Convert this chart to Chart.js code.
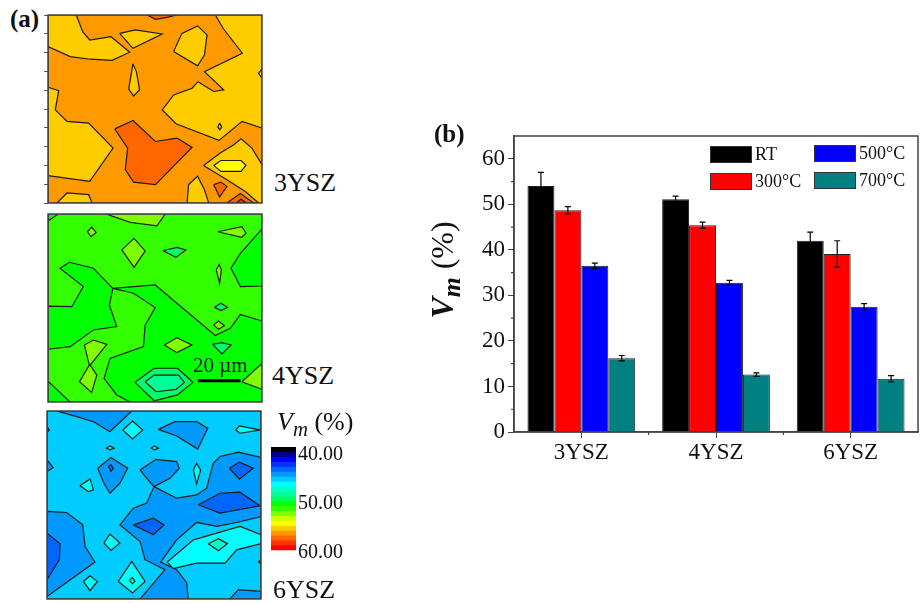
<!DOCTYPE html>
<html>
<head>
<meta charset="utf-8">
<title>Vm maps and bars</title>
<script src="https://cdn.jsdelivr.net/npm/chart.js@4/dist/chart.umd.min.js"></script>
<style>
  body { margin: 0; background: #fff; width: 921px; height: 603px; position: relative; overflow: hidden; font-family: "Liberation Serif", serif; color: #111; }
  canvas { position: absolute; }
  .t { position: absolute; white-space: nowrap; line-height: 1; }
  .swatch { position: absolute; width: 40px; height: 15px; border: 1px solid #333; box-sizing: content-box; }
  sub { font-size: 0.8em; line-height: 0; }
</style>
</head>
<body>
<canvas id="map3"></canvas>
<canvas id="map4"></canvas>
<canvas id="map6"></canvas>
<canvas id="colorbar"></canvas>
<canvas id="bars"></canvas>

<div class="t" style="left:10px;top:6px;font-size:25px;font-weight:bold">(a)</div>
<div class="t" style="left:434px;top:121px;font-size:25px;font-weight:bold">(b)</div>
<div class="t" style="left:274px;top:170px;font-size:26px">3YSZ</div>
<div class="t" style="left:272px;top:363px;font-size:26px">4YSZ</div>
<div class="t" style="left:273px;top:577px;font-size:26px">6YSZ</div>
<div class="t" style="left:193px;top:355px;font-size:21px">20 µm</div>
<div class="t" style="left:277px;top:409px;font-size:26px"><i>V<sub>m</sub></i> (%)</div>
<div class="t" id="yTitle" style="left:442px;top:270px;font-size:32px;transform:translate(-50%,-50%) rotate(-90deg)"><i><b>V<sub>m</sub></b></i> (%)</div>
<div id="legend"></div>

<script>
// panel (b)
const groups = ['3YSZ', '4YSZ', '6YSZ'];
const seriesNames = ['RT', '300°C', '500°C', '700°C'];
const seriesColors = ['#000000', '#ff0000', '#0000ff', '#008080'];
const rtValues = [54, 51.1, 42];
const t300Values = [48.7, 45.4, 39.1];
const t500Values = [36.5, 32.8, 27.5];
const t700Values = [16.2, 12.6, 11.7];
const rtErrors = [3, 0.7, 1.9];
const t300Errors = [0.8, 0.7, 2.9];
const t500Errors = [0.6, 0.5, 0.7];
const t700Errors = [0.6, 0.4, 0.7];
const yTickValues = [0, 10, 20, 30, 40, 50, 60];
const yMinorTicks = [5, 15, 25, 35, 45, 55];

// colour scale, Vm (%)
const bandLevels = [39, 40, 41, 42, 43, 44, 45, 46, 47, 48, 49, 50, 51, 52, 53, 54, 55, 56, 57, 58, 59];
const bandColors = ['#000000', '#000099', '#0000ff', '#0033ff', '#0066ff', '#0099ff', '#00ccff', '#00ffff', '#00ffcc', '#00ff99',
  '#00ff66', '#00ff00', '#33ff00', '#80ff00', '#ccff00', '#ffff00', '#ffcc00', '#ff9900', '#ff6600', '#ff3300', '#ff0000'];
const barLabels = [40, 50, 60];

// contour maps: position in um, y measured from the top of the map, 100 x 88 um field
const levels3YSZ = [56, 55, 55, 55, 55, 55, 55, 55, 55, 55, 55, 55, 57, 57, 57, 57, 58, 54];
const contours3YSZ = [
  [[0,0],[100,0],[100,88],[0,88]],
  [[0,0],[13.2,0],[16.2,7.8],[19.5,11.7],[29.4,10.1],[38.2,17.4],[29.9,21.2],[19.8,20.7],[10.4,19.5],[0,14.8]],
  [[33.5,8.6],[40.8,7],[53.3,8.9],[39.7,15.6]],
  [[58.7,17.1],[62.6,8.6],[69.9,5.1],[74.3,9.3],[73.1,18.7],[69.9,23.8]],
  [[78.2,0],[81.8,6.2],[90.8,17.9],[73.1,26.5],[82.1,35],[77.4,35.8],[70.1,31.2],[67.3,34.3],[58.7,37.4],[53.4,44.4],[59.8,50.9],[79.9,58.7],[90.7,49.8],[100,53],[100,0]],
  [[39.7,22.9],[41.3,26.5],[42.8,35],[40,37.9],[37.7,34.7]],
  [[100,25.2],[98.4,27.3],[100,29.6]],
  [[0,33.8],[5,35.4],[3.4,44.4],[8.9,49.8],[19,50.6],[30.4,62.3],[19.5,77.9],[0,75.2]],
  [[72.7,70.4],[80.5,64.6],[86.8,60.7],[90.2,57.9],[95.3,62.3],[100,70.1],[100,88],[98.4,88],[92.2,82.6],[83.6,77.1]],
  [[65,88],[65.7,79.4],[69.9,75.5],[73.1,81.8],[75.1,88]],
  [[4.2,88],[8.9,83.3],[19,84.1],[20.6,88]],
  [[80.2,50.6],[81.2,52.5],[80.2,53.7],[79.4,52.5]],
  [[31.2,53.3],[39.7,49.4],[50.2,59.2],[60.3,57.6],[67.3,62],[50.2,79.4],[40,78.2],[36.1,72.4],[37.2,62.3]],
  [[77.4,79.4],[80.8,78.2],[83.6,80.2],[80.2,85.2]],
  [[46.3,0],[60,0],[55.6,1.1],[50.2,2]],
  [[83.6,88],[89.9,83.6],[96.1,88]],
  [[88,88],[90.2,86.1],[92.7,88]],
  [[77.4,70.4],[80.8,68.1],[90.2,68.1],[92.5,70.4],[90.2,73.2],[80.8,73.2]]
];

const levels4YSZ = [51, 50, 50, 50, 50, 50, 52, 52, 52, 52, 52, 52, 52, 52, 52, 49, 49, 49, 49, 48];
const contours4YSZ = [
  [[0,0],[100,0],[100,88],[0,88]],
  [[0,0],[4.8,0],[0,3.3]],
  [[0,43.1],[11.1,43.4],[16.5,34],[5.6,25.4],[10,22.6],[21.2,25.4],[30.3,34.8],[28.7,42.6],[32.1,52.7],[21.2,54.3],[10.3,62.1],[0,63.3]],
  [[30.3,34.8],[50.1,33.2],[60.2,41.8],[78.2,56.9],[85.2,53.5],[89.9,47],[100,50.1],[100,88],[38.4,88],[32.1,84.7],[26.2,76.9],[29,67.6],[44.6,62.1],[45.4,52],[50.1,43.8],[39.9,37.1]],
  [[0,78.2],[10.3,88],[0,88]],
  [[100,7],[89.9,18.4],[85.5,25.4],[89.9,34],[100,33.7]],
  [[27.1,0],[54.8,0],[50.9,5.6],[38.4,3.9]],
  [[18.4,8.3],[20.4,6.2],[22.5,8.6],[20.1,10.6]],
  [[34.5,16.8],[40.2,11.4],[45.4,17.3],[40.2,25]],
  [[79.3,8.3],[90.6,5.9],[92.5,9],[90.6,10.9]],
  [[78.6,26.2],[80,23.6],[81,26.2],[80.2,32.4]],
  [[77.4,51.9],[79.7,50.1],[82.4,52.3],[79.7,54]],
  [[54.4,61.3],[60.2,57.9],[67.2,61.3],[60.2,64.9]],
  [[17,61.3],[21.2,59],[27.5,61],[19.7,70.7],[22.8,75.4],[20.4,83.5],[14.7,78.5],[19.3,70.7]],
  [[90.6,78.5],[100,69.9],[100,82.1]],
  [[53.7,17.2],[60.2,15.6],[64.4,16.8],[59.8,20.3]],
  [[77.8,43.7],[80.8,41.8],[83.9,43.7],[80.8,45.2]],
  [[76.9,61],[81.3,60.2],[85.5,61.3],[81.3,65.5]],
  [[40.7,78.8],[49.6,72.2],[60.5,72.2],[67.7,78.8],[60.5,84.7],[49.6,87.4]],
  [[45.4,78.5],[49.6,75.4],[61,75.4],[63.7,78.8],[59.8,82.1],[50.5,83.2]]
];
const scaleBarX = [70, 90];
const scaleBarY = [78, 78];

const levels6YSZ = [45, 44, 44, 44, 44, 44, 44, 44, 44, 44, 44, 43, 43, 43, 43, 43, 46, 46, 46, 46, 46, 46, 46, 46, 46, 46, 47, 47];
const contours6YSZ = [
  [[0,0],[100,0],[100,88],[0,88]],
  [[4.5,0],[39.6,0],[29.4,9.7],[21.7,5],[13.9,2.6]],
  [[52,8.6],[59.8,5],[69.9,5],[75.1,8.1],[70.4,17.8],[60.6,11.7]],
  [[0,7.3],[1.1,8.9],[0,10]],
  [[0,22.9],[2.9,26.5],[0,28.3]],
  [[23.7,26.8],[29.9,21.8],[37.7,26.8],[34.1,33.8],[29.4,38.5],[26.6,33.8]],
  [[43.5,27.6],[50.9,22.6],[60.6,23.7],[61.8,26.8],[57.5,31.5],[50,35.4],[46.6,31.5]],
  [[50,35.4],[60.6,40.8],[69.9,39.3],[74.6,36.1],[77.7,24.5],[80.8,21.3],[89.4,19.3],[100,21.7],[100,49.4],[88.6,52.2],[79.3,54],[69.9,52.2],[60.6,60.3],[53.1,70.7],[60.6,74.3],[65.3,80.5],[66,88],[43.5,88],[55.1,74.3],[45.8,69.6],[43.5,61.1],[34.1,53.3],[40.3,45.5],[46.6,43.1]],
  [[85.5,88],[89.4,83.6],[100,84.4],[100,88]],
  [[0,47],[9.2,47.5],[16.7,53.3],[17.8,63.4],[22.4,70.7],[0,86.8]],
  [[100,69.6],[98.8,70.7],[100,71.5]],
  [[0,57.2],[6.1,62.1],[5.8,69.6],[0,79]],
  [[85.2,26.8],[89.9,24],[96.4,26.8],[89.9,31.9]],
  [[70.7,43.9],[80.8,38.5],[90.2,38],[99.5,44.4],[80.8,47.8]],
  [[40.3,53.3],[49.7,50.2],[54.7,53.3],[49.7,57.9]],
  [[28.7,26],[29.9,25.2],[31,26.8],[29.9,28.3]],
  [[35.4,8.9],[40,4.7],[44.7,8.9],[40,13.1]],
  [[88.2,8.9],[89.9,7],[99.5,8.9],[90.2,10.4]],
  [[27.6,17.4],[29.4,16.4],[31.3,17.4],[29.4,18.2]],
  [[48.6,17.4],[50.2,16.4],[52,17.4],[50.2,18.2]],
  [[68.4,27.6],[69.9,24.5],[71.8,27.6],[69.9,34.1]],
  [[15.4,35],[20.1,31.8],[21.7,36.9],[19.3,37.7]],
  [[26.6,61.8],[29.4,57.6],[34.1,61.8],[29.9,65.3]],
  [[17,79.8],[20.1,77.1],[23.5,79.8],[20.1,84.1]],
  [[33.3,79.8],[39.6,70.4],[45.8,79.8],[40,85.2]],
  [[56.2,70.7],[68.4,60.3],[90.2,54],[100,57.9],[100,62.1],[88.6,65],[83.2,71.2],[69.9,71.2],[59,73.8]],
  [[38.5,79.4],[39.9,77.9],[41.1,79.8],[39.9,80.8]],
  [[75.4,62.1],[80.1,59.8],[84.3,62.1],[80.1,65.4]]
];

Chart.defaults.animation = false;
Chart.defaults.responsive = false;
Chart.defaults.font.family = '"Liberation Serif", serif';
Chart.defaults.color = '#111';
Chart.defaults.plugins.legend.display = false;
Chart.defaults.plugins.tooltip.enabled = false;

function place(id, left, top, width, height) {
  const c = document.getElementById(id);
  c.width = width;
  c.height = height;
  c.style.left = left + 'px';
  c.style.top = top + 'px';
  return c;
}

function levelColor(level) {
  return bandColors[bandLevels.indexOf(level)];
}

// fills each closed contour, the line itself is drawn by chart.js on top
const polygonFill = {
  id: 'polygonFill',
  beforeDatasetDraw(chart, args) {
    const ds = chart.data.datasets[args.index];
    if (!ds.polygonColor) return;
    const pts = args.meta.data;
    const ctx = chart.ctx;
    ctx.save();
    ctx.beginPath();
    pts.forEach((p, i) => i ? ctx.lineTo(p.x, p.y) : ctx.moveTo(p.x, p.y));
    ctx.closePath();
    ctx.fillStyle = ds.polygonColor;
    ctx.fill();
    ctx.restore();
  }
};

const frame = {
  id: 'frame',
  afterDraw(chart) {
    const a = chart.chartArea;
    const ctx = chart.ctx;
    ctx.save();
    ctx.strokeStyle = '#444';
    ctx.lineWidth = 1.5;
    ctx.strokeRect(a.left, a.top, a.right - a.left, a.bottom - a.top);
    ctx.restore();
  }
};

function drawMap(id, left, top, polys, levels, opts = {}) {
  const datasets = polys.map((poly, i) => ({
    data: poly.concat([poly[0]]).map(p => ({ x: p[0], y: p[1] })),
    polygonColor: levelColor(levels[i]),
    order: polys.length - i,
    showLine: true,
    borderColor: '#1c1c10',
    borderWidth: 1.2,
    pointRadius: 0
  }));
  if (opts.scaleBar) {
    datasets.push({
      data: scaleBarX.map((x, i) => ({ x, y: scaleBarY[i] })),
      order: -1,
      showLine: true,
      borderColor: '#000',
      borderWidth: 3,
      pointRadius: 0
    });
  }
  new Chart(place(id, left - 8, top - 2, 214 + 10, 188 + 4), {
    type: 'scatter',
    data: { datasets },
    options: {
      layout: { padding: { right: 2, top: 2, bottom: 2 } },
      scales: {
        x: { type: 'linear', min: 0, max: 100, display: false },
        y: {
          type: 'linear', min: 0, max: 88, reverse: true,
          afterFit: s => { s.width = 8; },
          grid: { drawOnChartArea: false, drawTicks: !!opts.ticks, tickLength: 4, tickColor: '#555' },
          border: { display: false },
          ticks: { display: false, stepSize: 8.8 }
        }
      }
    },
    plugins: [polygonFill, frame]
  });
}

drawMap('map3', 48, 15, contours3YSZ, levels3YSZ, { ticks: true });
drawMap('map4', 48, 214, contours4YSZ, levels4YSZ, { scaleBar: true });
drawMap('map6', 47, 411, contours6YSZ, levels6YSZ);

// colour bar, extra padding so the tick labels do not shrink the plot
new Chart(place('colorbar', 265, 426, 90, 150), {
  type: 'bar',
  data: {
    labels: ['Vm'],
    datasets: bandLevels.map((lvl, i) => ({
      data: [[lvl - 0.63, lvl + 0.37]],
      backgroundColor: bandColors[i],
      barPercentage: 1,
      categoryPercentage: 1,
      grouped: false
    }))
  },
  options: {
    layout: { padding: { left: 6, top: 21, bottom: 23 } },
    scales: {
      x: { display: false },
      y: {
        position: 'right', min: 38.37, max: 60, reverse: true,
        afterFit: s => { s.width = 59; },
        afterBuildTicks: s => { s.ticks = barLabels.map(v => ({ value: v })); },
        grid: { display: false, drawTicks: false },
        border: { display: false },
        ticks: { autoSkip: false, padding: 2, font: { size: 20 }, callback: v => v.toFixed(2) }
      }
    }
  }
});

// panel (b) error bars and minor ticks
const errorArrays = [rtErrors, t300Errors, t500Errors, t700Errors];
const errorBars = {
  id: 'errorBars',
  afterDatasetsDraw(chart) {
    const ctx = chart.ctx;
    const y = chart.scales.y;
    ctx.save();
    ctx.strokeStyle = '#000';
    ctx.lineWidth = 1.2;
    chart.data.datasets.forEach((ds, i) => {
      chart.getDatasetMeta(i).data.forEach((bar, j) => {
        const hi = y.getPixelForValue(ds.data[j] + errorArrays[i][j]);
        const lo = y.getPixelForValue(ds.data[j] - errorArrays[i][j]);
        ctx.beginPath();
        ctx.moveTo(bar.x, hi); ctx.lineTo(bar.x, lo);
        ctx.moveTo(bar.x - 3, hi); ctx.lineTo(bar.x + 3, hi);
        ctx.moveTo(bar.x - 3, lo); ctx.lineTo(bar.x + 3, lo);
        ctx.stroke();
      });
    });
    ctx.restore();
  }
};

const minorTicks = {
  id: 'minorTicks',
  afterDraw(chart) {
    const { x, y } = chart.scales;
    const a = chart.chartArea;
    const ctx = chart.ctx;
    ctx.save();
    ctx.strokeStyle = '#444';
    ctx.lineWidth = 1.2;
    ctx.beginPath();
    yMinorTicks.forEach(v => {
      const py = y.getPixelForValue(v);
      ctx.moveTo(a.left - 3, py); ctx.lineTo(a.left, py);
    });
    for (let i = 1; i < groups.length; i++) {
      const px = (x.getPixelForValue(i - 1) + x.getPixelForValue(i)) / 2;
      ctx.moveTo(px, a.bottom); ctx.lineTo(px, a.bottom + 3);
    }
    ctx.stroke();
    ctx.restore();
  }
};

// canvas starts well above the plot so the top tick label leaves the scale alone
new Chart(place('bars', 460, 100, 461, 375), {
  type: 'bar',
  data: {
    labels: groups,
    datasets: [rtValues, t300Values, t500Values, t700Values].map((vals, i) => ({
      label: seriesNames[i],
      data: vals,
      backgroundColor: seriesColors[i],
      borderColor: '#222',
      borderWidth: 1,
      barPercentage: 1,
      categoryPercentage: 0.8
    }))
  },
  options: {
    layout: { padding: { top: 36, right: 3 } },
    scales: {
      x: {
        afterFit: s => { s.height = 43; },
        grid: { drawOnChartArea: false, tickLength: 6, tickColor: '#444', offset: false },
        border: { color: '#444', width: 1.5 },
        ticks: { font: { size: 23 }, padding: 1, color: '#111', maxRotation: 0 }
      },
      y: {
        min: 0, max: 65,
        afterFit: s => { s.width = 54; },
        afterBuildTicks: s => { s.ticks = yTickValues.map(v => ({ value: v })); },
        grid: { drawOnChartArea: false, tickLength: 6, tickColor: '#444' },
        border: { color: '#444', width: 1.5 },
        ticks: { font: { size: 23 }, padding: 3, color: '#111' }
      }
    }
  },
  plugins: [errorBars, minorTicks, frame]
});

// legend, two columns inside the plot
const legendCols = [710, 814];
const legendRows = [146, 173];
const legend = document.getElementById('legend');
seriesNames.forEach((name, i) => {
  const col = Math.floor(i / 2);
  const row = i % 2;
  const sw = document.createElement('div');
  sw.className = 'swatch';
  sw.style.left = legendCols[col] + 'px';
  sw.style.top = legendRows[row] - col + 'px';
  sw.style.background = seriesColors[i];
  legend.appendChild(sw);
  const label = document.createElement('div');
  label.className = 't';
  label.textContent = name;
  label.style.left = legendCols[col] + 45 + 'px';
  label.style.top = legendRows[row] - col - 1 + 'px';
  label.style.fontSize = '18px';
  legend.appendChild(label);
});
</script>
</body>
</html>
